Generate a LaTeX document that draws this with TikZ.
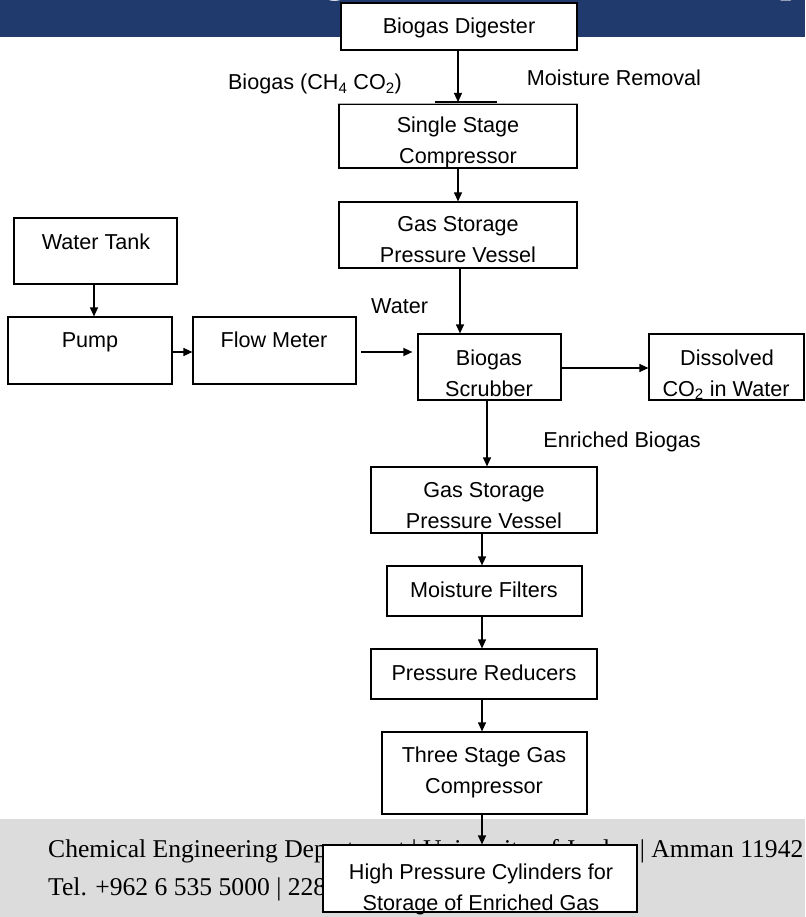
\documentclass[tikz,border=0pt]{standalone}
\usepackage{fontspec}
\setmainfont{Liberation Sans}
\newfontfamily\footfont{Liberation Serif}
\usetikzlibrary{arrows.meta,fit}
\definecolor{bandblue}{RGB}{33,58,110}
\definecolor{footgray}{RGB}{220,220,220}
\tikzset{
 box/.style={draw=black, fill=white, line width=1.2pt, inner sep=0pt},
 txt/.style={inner sep=0pt, anchor=base, font=\fontsize{21.6}{24}\selectfont},
 foot/.style={inner sep=0pt, anchor=base west, font=\footfont\fontsize{25.6}{30}\selectfont},
 frag/.style={inner sep=0pt, anchor=base, text=white, font=\footfont\bfseries\fontsize{40}{40}\selectfont},
 arr/.style={line width=1.2pt, -{Triangle[length=9pt,width=8pt]}},
}
\begin{document}
\begin{tikzpicture}[x=1pt,y=-1pt]
\useasboundingbox (0,0) rectangle (805,917);
% bands
\fill[bandblue] (0,0) rectangle (805,37);
\begin{scope}
\clip (0,0) rectangle (805,37);
\node[frag] (tg) at (335,-7) {g};
\node[frag] (tp) at (792,-7) {p};
\end{scope}
\fill[footgray] (0,819) rectangle (805,917);
\node[foot] (f1) at (48,857) {Chemical Engineering Department | University of Jordan | Amman 11942};
\node[foot] (f2) at (48,895) {Tel. +962 6 535 5000 | 228};
% boxes
\node[box, fit={(341,3)(577,50)}] (dig) {};
\node[box, fit={(339,104)(577,168)}] (ssc) {};
\node[box, fit={(339,202)(577,268)}] (gs1) {};
\node[box, fit={(14,218)(177,284)}] (wt) {};
\node[box, fit={(8,317)(172,384)}] (pump) {};
\node[box, fit={(193,317)(356,384)}] (fm) {};
\node[box, fit={(418,334)(561,400)}] (scr) {};
\node[box, fit={(649,334)(804,400)}] (dis) {};
\node[box, fit={(371,467)(597,533)}] (gs2) {};
\node[box, fit={(387,566)(582,616)}] (mf) {};
\node[box, fit={(371,649)(597,699)}] (pr) {};
\node[box, fit={(382,732)(587,814)}] (tsc) {};
\node[box, fit={(323,845)(637,912)}] (hpc) {};
\draw[gray!60, line width=1.2pt] (ssc.north west) -- (ssc.north east);
% texts
\node[txt] (t1) at (459,34) {Biogas Digester};
\node[txt] (t2) at (315,90) {Biogas (CH\textsubscript{4} CO\textsubscript{2})};
\node[txt] (t3) at (614,86) {Moisture Removal};
\node[txt] (t4) at (458,133) {Single Stage};
\node[txt] (t5) at (458,164) {Compressor};
\node[txt] (t6) at (458,231) {Gas Storage};
\node[txt] (t7) at (458,262) {Pressure Vessel};
\node[txt] (t8) at (96,249) {Water Tank};
\node[txt] (t9) at (90,347) {Pump};
\node[txt] (t10) at (274,347) {Flow Meter};
\node[txt, anchor=base west] (t11) at (371,313) {Water};
\node[txt] (t12) at (489,365) {Biogas};
\node[txt] (t13) at (489,396) {Scrubber};
\node[txt] (t14) at (727,365) {Dissolved};
\node[txt] (t15) at (726,396) {CO\textsubscript{2} in Water};
\node[txt] (t16) at (622,447) {Enriched Biogas};
\node[txt] (t17) at (484,497) {Gas Storage};
\node[txt] (t18) at (484,528) {Pressure Vessel};
\node[txt] (t19) at (484,597) {Moisture Filters};
\node[txt] (t20) at (484,680) {Pressure Reducers};
\node[txt] (t21) at (484,762) {Three Stage Gas};
\node[txt] (t22) at (484,793) {Compressor};
\node[txt] (t23) at (481,879) {High Pressure Cylinders for};
\node[txt] (t24) at (481,910) {Storage of Enriched Gas};
% connectors
\coordinate (xa) at (458,0);
\coordinate (xb) at (460,0);
\coordinate (xc) at (487,0);
\coordinate (xd) at (482,0);
\coordinate (xw) at (94,0);
\coordinate (yp) at (0,352);
\coordinate (ys) at (0,368);
\coordinate (barL) at (435,102);
\coordinate (barR) at (497,102);
\coordinate (wstart) at (361,352);
\draw[line width=1.2pt] (barL) -- (barR);
\draw[arr] (dig.south -| xa) -- (barL -| xa);
\draw[arr] (ssc.south -| xa) -- (gs1.north -| xa);
\draw[arr] (gs1.south -| xb) -- (scr.north -| xb);
\draw[arr] (wt.south -| xw) -- (pump.north -| xw);
\draw[arr] (pump.east |- yp) -- (fm.west |- yp);
\draw[arr, shorten >=5pt] (wstart) -- (scr.west |- wstart);
\draw[arr] (scr.east |- ys) -- (dis.west |- ys);
\draw[arr] (scr.south -| xc) -- (gs2.north -| xc);
\draw[arr] (gs2.south -| xd) -- (mf.north -| xd);
\draw[arr] (mf.south -| xd) -- (pr.north -| xd);
\draw[arr] (pr.south -| xd) -- (tsc.north -| xd);
\draw[arr] (tsc.south -| xd) -- (hpc.north -| xd);
\end{tikzpicture}
\end{document}
